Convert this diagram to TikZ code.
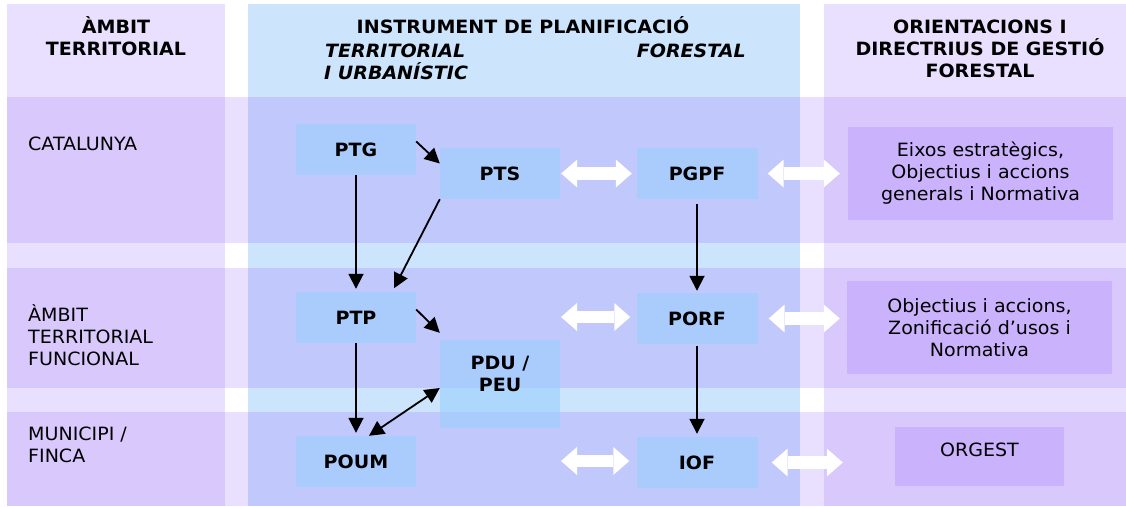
\documentclass[tikz,border=0pt]{standalone}
\usepackage{fontspec}
\setmainfont{DejaVu Sans}[FakeStretch=1.04]
\usetikzlibrary{arrows.meta}
\definecolor{lavL}{RGB}{232,224,254}
\definecolor{lavD}{RGB}{216,200,252}
\definecolor{blueL}{RGB}{204,228,252}
\definecolor{peri}{RGB}{192,200,252}
\definecolor{boxblue}{RGB}{155,207,255}
\definecolor{boxlav}{RGB}{202,178,252}
\newcommand{\bodysize}{\fontsize{18.3pt}{22pt}\selectfont}

\begin{document}
\begin{tikzpicture}[x=1pt, y=-1pt, inner sep=0pt, font=\bodysize,
            head/.style={font=\bodysize\bfseries},
            headit/.style={font=\bodysize\bfseries\itshape},
            box/.style={fill=boxblue, fill opacity=0.6, text opacity=1, minimum width=120pt, minimum height=51pt, font=\bodysize\bfseries},
            dirbox/.style={fill=boxlav, minimum width=265pt, minimum height=93pt, align=center},
            arr/.style={line width=1.8pt, -{Triangle[length=15pt, width=15pt]}},
            dblarr/.style={line width=1.8pt, {Triangle[length=15pt, width=15pt]}-{Triangle[length=15pt, width=15pt]}},
            wide/.style={white, line width=12.5pt, {Triangle[length=16pt, width=28pt, line width=0pt]}-{Triangle[length=16pt, width=28pt, line width=0pt]}}]
            \useasboundingbox (0, 0) rectangle (1126, 506);
            \fill [lavL] (7, 4) rectangle (225, 506);
            \fill [blueL] (248, 4) rectangle (800, 506);
            \fill [lavL] (824, 4) rectangle (1126, 506);
            \foreach \top/\bot in {97/243, 268/388, 412/506} {
                \fill [lavD] (7, \top) rectangle (225, \bot);
                \fill [lavL] (225, \top) rectangle (248, \bot);
                \fill [peri] (248, \top) rectangle (800, \bot);
                \fill [lavL] (800, \top) rectangle (824, \bot);
                \fill [lavD] (824, \top) rectangle (1126, \bot);
            }

            \node [head, anchor=north, align=center] (ambit) at (116, 16) {ÀMBIT\\TERRITORIAL};
            \node [head, anchor=base] (instr) at (523, 33) {INSTRUMENT DE PLANIFICACIÓ};
            \node [headit, anchor=base west] (terr) at (325, 57) {TERRITORIAL};
            \node [headit, anchor=base west] (urb) at (324, 79) {I URBANÍSTIC};
            \node [headit, anchor=base east] (forest) at (746, 57) {FORESTAL};
            \node [head, anchor=north, align=center] (orient) at (980, 19.4) {ORIENTACIONS I\\DIRECTRIUS DE GESTIÓ\\FORESTAL};

            \node [anchor=base west] (cat) at (28, 150) {CATALUNYA};
            \node [anchor=north west, align=left] (funcional) at (28, 304) {ÀMBIT\\TERRITORIAL\\FUNCIONAL};
            \node [anchor=north west, align=left] (municipi) at (28, 427) {MUNICIPI /\\FINCA};

            \node [box] (ptg) at (356, 149.5) {PTG};
            \node [box] (pts) at (500, 173.5) {PTS};
            \node [box, minimum width=121pt] (pgpf) at (697, 173.5) {PGPF};
            \node [dirbox] (eixos) at (980.5, 173.5) {Eixos estratègics,\\Objectius i accions\\generals i Normativa};
            \node [box] (ptp) at (356, 317.5) {PTP};
            \node [box, minimum height=88pt, align=center] (pdu) at (500, 384) {PDU /\\PEU\rule[-20pt]{0pt}{20pt}};
            \node [box, minimum width=121pt] (porf) at (697, 318.5) {PORF};
            \node [dirbox] (objectius) at (979.5, 327.5) {Objectius i accions,\\Zonificació d’usos i\\Normativa};
            \node [box] (poum) at (356, 461.5) {POUM};
            \node [box, minimum width=121pt] (iof) at (697, 462.5) {IOF};
            \node [dirbox, minimum width=169pt, minimum height=59pt] (orgest) at (979.5, 456.5) {ORGEST\rule[-13pt]{0pt}{13pt}};
            \coordinate (w2) at (561, 317);
            \coordinate (w3) at (561, 461);

            \draw [arr] ([yshift=8pt]ptg.east) -- ([yshift=10pt]pts.west);
            \draw [arr, shorten >=3pt] (ptg) -- (ptp);
            \draw [arr, shorten >=4pt] (pts.south west) -- ([xshift=-24pt]ptp.north east);
            \draw [arr] ([yshift=8pt]ptp.east) -- ([yshift=7pt]pdu.north west);
            \draw [arr, shorten >=3pt] (ptp) -- (poum);
            \draw [dblarr] ([yshift=-4pt]pdu.west) -- ([xshift=13pt]poum.north);
            \draw [arr, shorten <=5pt, shorten >=2pt] (pgpf) -- (porf);
            \draw [arr, shorten <=2pt, shorten >=3pt] (porf) -- (iof);

            \draw [wide, shorten <=1pt, shorten >=4.5pt] (pts) -- (pgpf);
            \draw [wide, shorten <=10pt, shorten >=8pt] (pgpf) -- (eixos);
            \draw [wide, shorten >=6pt] (w2) -- (w2 -| porf.west);
            \draw [wide, shorten <=11pt, shorten >=7pt] (porf.east) -- (porf.east -| objectius.west);
            \draw [wide, shorten >=7pt] (w3) -- (w3 -| iof.west);
            \draw [wide, shorten <=14pt, shorten >=52pt] (iof.east) -- (iof.east -| orgest.west);
\end{tikzpicture}
\end{document}
